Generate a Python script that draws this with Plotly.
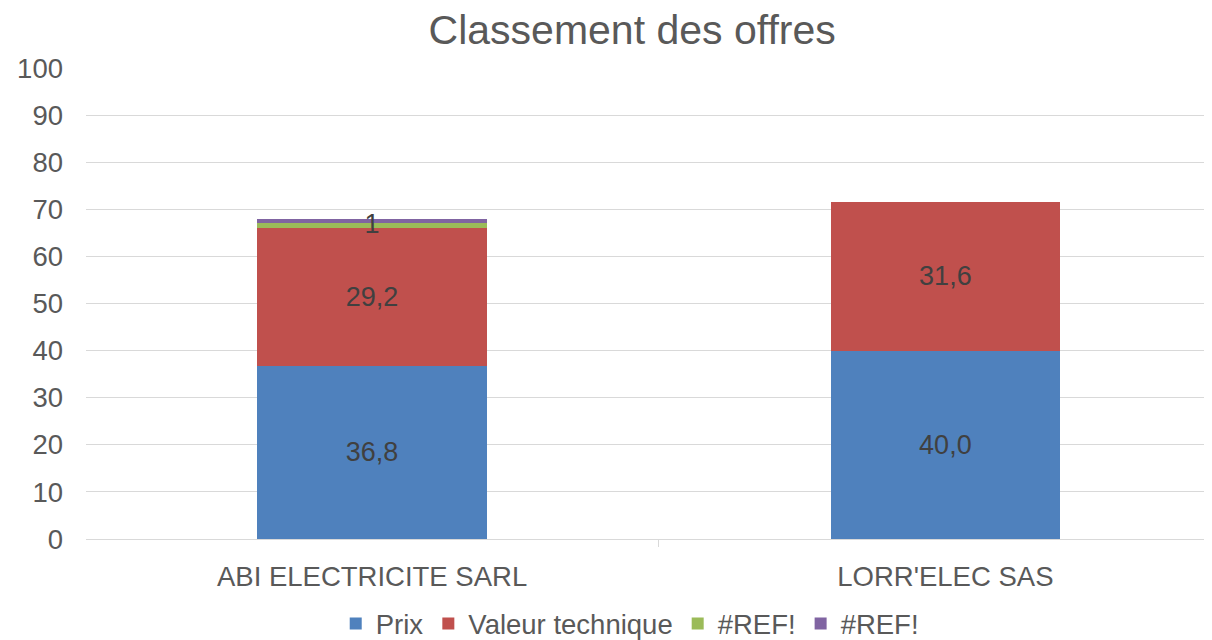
import plotly.graph_objects as go

# Classement des offres - stacked scores per bidder
offres = ["ABI ELECTRICITE SARL", "LORR'ELEC SAS"]
prix = [36.8, 40.0]
valeur_technique = [29.2, 31.6]
ref_1 = [1, 0]
ref_2 = [1, 0]

FONT = "Liberation Sans, Arial, sans-serif"
GREY = "#595959"
LABEL = "#404040"
SIZE = 27.5
DATA_SIZE = 27

fig = go.Figure()
fig.add_trace(go.Bar(
    x=offres, y=prix, name="Prix", marker_color="#4F81BD", marker_line_width=0,
    text=[f"{v:.1f}".replace(".", ",") for v in prix],
    textposition="inside", insidetextanchor="middle",
    textfont=dict(size=DATA_SIZE, color=LABEL),
))
fig.add_trace(go.Bar(
    x=offres, y=valeur_technique, name="Valeur technique", marker_color="#C0504D",
    marker_line_width=0,
    text=[f"{v:.1f}".replace(".", ",") for v in valeur_technique],
    textposition="inside", insidetextanchor="middle",
    textfont=dict(size=DATA_SIZE, color=LABEL),
))
fig.add_trace(go.Bar(
    x=offres, y=ref_1, name="#REF!", marker_color="#9BBB59", marker_line_width=0,
    textposition="none",
))
fig.add_trace(go.Bar(
    x=offres, y=ref_2, name="#REF! ", marker_color="#8064A2", marker_line_width=0,
    textposition="none",
))

# data label "1" for the thin #REF! segment (too thin for inside text)
base = prix[0] + valeur_technique[0]
fig.add_trace(go.Scatter(
    x=[offres[0]], y=[base + ref_1[0] / 2], mode="text", text=[str(ref_1[0])],
    textfont=dict(size=DATA_SIZE, color=LABEL, family=FONT), showlegend=False,
    hoverinfo="skip",
))

fig.update_layout(
    barmode="stack",
    bargap=0.6,
    width=1212, height=640,
    margin=dict(l=78, r=0, t=60, b=108),
    paper_bgcolor="white", plot_bgcolor="white",
    font=dict(family=FONT, color=GREY, size=SIZE),
    title=dict(text="Classement des offres", x=0.515, xanchor="center", y=0.966,
               yanchor="middle", font=dict(size=41, color=GREY, family=FONT)),
    legend=dict(orientation="h", x=0.483, xanchor="center", y=-0.18, yanchor="middle",
                font=dict(size=SIZE, color=GREY), traceorder="normal"),
    showlegend=True,
)
fig.update_yaxes(
    range=[0, 100], dtick=10, showgrid=True, gridcolor="#D9D9D9", gridwidth=1,
    zeroline=False, showline=False, ticks="", ticklabelstandoff=22,
    tickfont=dict(size=SIZE, color=GREY),
)
fig.update_xaxes(
    range=[-0.499, 1.479], showline=True, linecolor="#D9D9D9", linewidth=1,
    ticks="outside", ticklen=7, tickcolor="#D9D9D9", tickson="boundaries",
    ticklabelstandoff=13, tickfont=dict(size=SIZE, color=GREY),
)

fig.write_html("out.html")
